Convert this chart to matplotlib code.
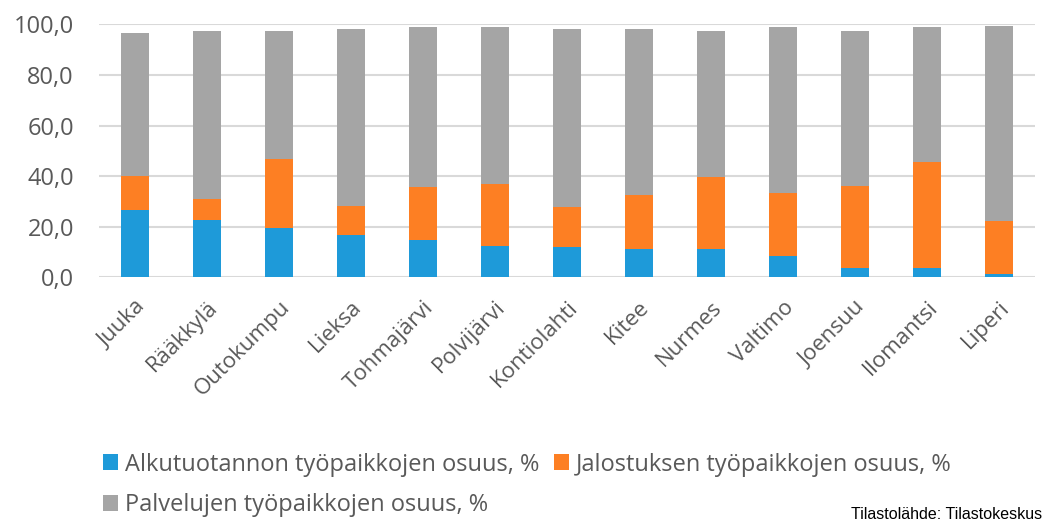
import matplotlib
matplotlib.use("Agg")
import matplotlib.pyplot as plt
import numpy as np

plt.rcParams["font.family"] = ["Open Sans", "DejaVu Sans"]

municipalities = ["Juuka", "Rääkkylä", "Outokumpu", "Lieksa", "Tohmajärvi", "Polvijärvi",
                  "Kontiolahti", "Kitee", "Nurmes", "Valtimo", "Joensuu", "Ilomantsi", "Liperi"]
primary = [26.6, 22.6, 19.6, 16.7, 14.7, 12.4, 11.9, 11.3, 11.2, 8.3, 3.6, 3.6, 1.3]
processing = [13.6, 8.2, 27.2, 11.5, 20.9, 24.5, 15.8, 21.2, 28.6, 24.9, 32.6, 41.9, 21.1]
services = [56.2, 66.7, 50.7, 69.9, 63.2, 61.9, 70.3, 65.5, 57.7, 65.6, 61.3, 53.3, 76.9]

labels = ["Alkutuotannon työpaikkojen osuus, %",
          "Jalostuksen työpaikkojen osuus, %",
          "Palvelujen työpaikkojen osuus, %"]
colors = ["#1e9ad9", "#fd7f23", "#a5a5a5"]
text_col = "#595959"

fig = plt.figure(figsize=(10.44, 5.24), dpi=100)
ax = fig.add_axes([0.0948, 0.4708, 0.8966, 0.4828])

x = np.arange(len(municipalities))
w = 0.39
b1 = ax.bar(x, primary, w, color=colors[0], label=labels[0], zorder=3)
b2 = ax.bar(x, processing, w, bottom=primary, color=colors[1], label=labels[1], zorder=3)
bottom3 = np.array(primary) + np.array(processing)
b3 = ax.bar(x, services, w, bottom=bottom3, color=colors[2], label=labels[2], zorder=3)

ax.set_ylim(0, 100)
ax.set_xlim(-0.5, len(municipalities) - 0.5)
yt = np.arange(0, 101, 20)
ax.set_yticks(yt)
ax.set_yticklabels([f"{v:.1f}".replace(".", ",") for v in yt], fontsize=17, color=text_col)
ax.set_xticks(x)
ax.set_xticklabels(municipalities, rotation=45, ha="right", rotation_mode="anchor",
                   fontsize=16, color=text_col)
ax.tick_params(axis="both", length=0)
ax.tick_params(axis="y", pad=18)
ax.tick_params(axis="x", pad=14)
ax.grid(axis="y", color="#d9d9d9", linewidth=1.5, zorder=0)
for s in ax.spines.values():
    s.set_visible(False)

fig.legend([b1, b3, b2], [labels[0], labels[2], labels[1]], ncol=2,
           loc="upper left", bbox_to_anchor=(0.078, 0.177), frameon=False,
           fontsize=17, labelcolor=text_col, handlelength=0.65, handleheight=0.65,
           handletextpad=0.3, columnspacing=0.6, labelspacing=0.7)

fig.text(0.998, 0.004, "Tilastolähde: Tilastokeskus", fontsize=11.5, color="black",
         ha="right", va="bottom", family=["Liberation Sans", "DejaVu Sans"])

fig.savefig("out.png", dpi=100)
